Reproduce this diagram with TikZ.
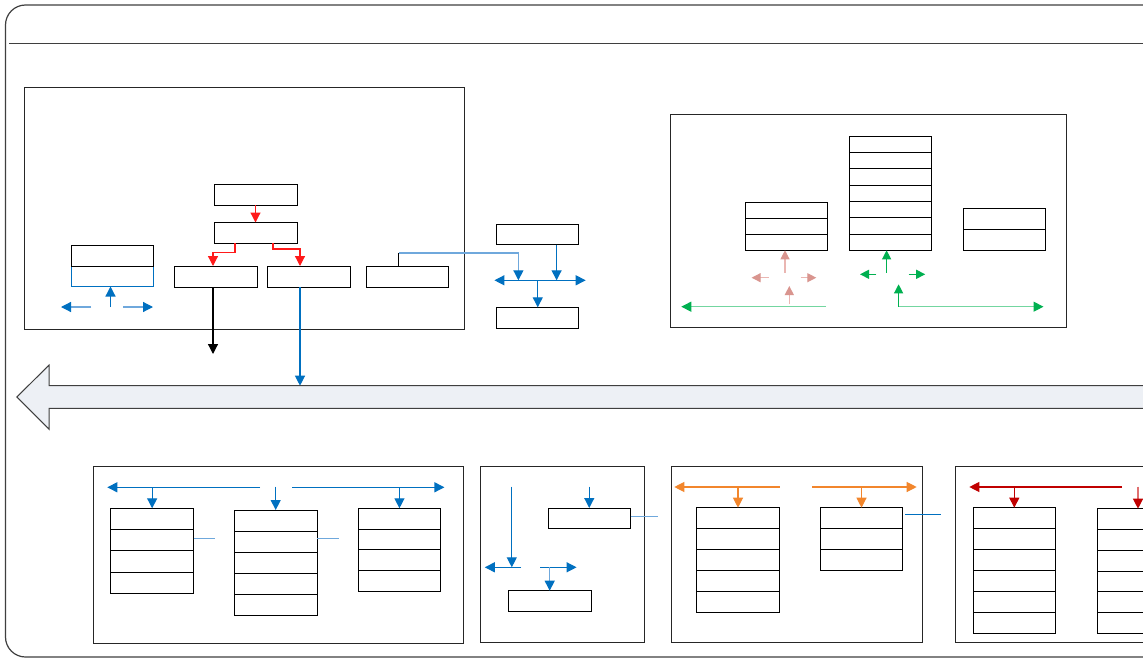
\documentclass[tikz,border=0pt]{standalone}
\usetikzlibrary{arrows.meta,calc}

\definecolor{frameGrey}{HTML}{3F3F3F}
\definecolor{blueD}{HTML}{0070C0}
\definecolor{blueL}{HTML}{6FA8DC}
\definecolor{redA}{HTML}{FF1A1A}
\definecolor{pinkL}{HTML}{EAB6B2}
\definecolor{pinkD}{HTML}{D9958F}
\definecolor{greenD}{HTML}{00B050}
\definecolor{greenL}{HTML}{73D6A0}
\definecolor{orangeA}{HTML}{F2862C}
\definecolor{darkRed}{HTML}{C00000}
\definecolor{darkRedL}{HTML}{E07070}
\definecolor{busFill}{HTML}{EDF0F5}

\tikzset{
  cell/.style={draw=black, line width=0.9pt, inner sep=0pt, outer sep=0pt, anchor=north west},
  panel/.style={draw=black!85, line width=0.9pt, inner sep=0pt, outer sep=0pt, anchor=north west},
  arr/.style 2 args={line width=1.2pt, draw=#1, -{Triangle[length=10pt,width=10pt,color=#2]}},
  sarr/.style 2 args={line width=1.2pt, draw=#1, -{Triangle[length=9pt,width=9pt,color=#2]}},
  dblarr/.style 2 args={line width=1.2pt, draw=#1, {Triangle[length=10pt,width=10pt,color=#2]}-{Triangle[length=10pt,width=10pt,color=#2]}},
  plain/.style={line width=1.2pt, draw=#1},
}

\begin{document}
\begin{tikzpicture}[x=1pt,y=-1pt]
\useasboundingbox (0,0) rectangle (1143,658);
\clip (0,0) rectangle (1143,658);
\fill[white] (0,0) rectangle (1143,658);

% outer frame and header rule
\draw[frameGrey, line width=1.2pt, rounded corners=20pt] (5.5,657) -- (5.5,5) -- (1200,5) -- (1200,657) -- cycle;
\draw[frameGrey, line width=1.2pt] (9,43.5) -- (1200,43.5);

% ---------------- panel A ----------------
\node[panel, minimum width=439.5pt, minimum height=241.5pt] (pA) at (24.5,87.5) {};
\node[cell, minimum width=83pt, minimum height=21pt] (a-top) at (214,184) {};
\node[cell, minimum width=83pt, minimum height=20.5pt] (a-mid) at (214,222.5) {};
\node[cell, minimum width=83pt, minimum height=21pt] (a-b1) at (174,266) {};
\node[cell, minimum width=83pt, minimum height=21pt] (a-b2) at (267,266) {};
\node[cell, minimum width=82pt, minimum height=21pt] (a-b3) at (366,266) {};
\node[cell, draw=blueD, minimum width=82.5pt, minimum height=20.5pt] (a-l2) at (71,266) {};
\node[cell, minimum width=82.5pt, minimum height=21pt] (a-l1) at (71,245) {};

\draw[arr={redA}{redA}] (a-top.south) -- (a-mid.north);
\draw[arr={redA}{redA}] ([xshift=-20.5pt]a-mid.south) -- ++(0,9.5) -| ([xshift=-2.5pt]a-b1.north);
\draw[arr={redA}{redA}] ([xshift=17.5pt]a-mid.south) -- ++(0,6) -| ([xshift=-8.5pt]a-b2.north);

\coordinate (blk-end) at (213,354);
\draw[arr={black}{black}] ([xshift=-2.5pt]a-b1.south) -- (blk-end);

\coordinate (bus-a) at (300,385.7);
\draw[arr={blueD}{blueD}] ([xshift=-8.5pt]a-b2.south) -- (bus-a);

% small arrows under the left pair
\coordinate (la-l0) at (91,307);   \coordinate (la-l1) at (61,307);
\coordinate (la-u0) at (110.5,307);
\coordinate (la-r0) at (123,307);  \coordinate (la-r1) at (153,307);
\draw[arr={blueL}{blueD}] (la-l0) -- (la-l1);
\draw[arr={blueD}{blueD}] (la-u0) -- (la-u0 |- a-l2.south);
\draw[arr={blueL}{blueD}] (la-r0) -- (la-r1);

% ---------------- junction D / E ----------------
\node[cell, minimum width=82.3pt, minimum height=20.7pt] (d) at (496.6,224) {};
\node[cell, minimum width=82.3pt, minimum height=21pt] (e) at (496.6,307.3) {};
\coordinate (hb-l) at (494.4,280.3);
\coordinate (hb-r) at (585.7,280.3);
\coordinate (hb-in1) at (518.4,280.3);
\coordinate (hb-in2) at (556.6,280.3);
\coordinate (hb-mid) at (537.75,280.3);

\draw[line width=1pt, black] ([xshift=-8.5pt]a-b3.north) -- ++(0,-13) coordinate (j1);
\draw[arr={blueL}{blueD}] (j1) -| (hb-in1);
\draw[arr={blueD}{blueD}] ([xshift=18.85pt]d.south) -- (hb-in2);
\draw[dblarr={blueD}{blueD}] (hb-l) -- (hb-r);
\draw[arr={blueD}{blueD}] (hb-mid) -- (e.north);

% ---------------- panel C ----------------
\node[panel, minimum width=396pt, minimum height=213.7pt] (pC) at (670,114) {};
\foreach \i in {0,...,2}
  \node[cell, minimum width=82.3pt, minimum height=16pt] (c-l-\i) at (745.6,{202.3+16*\i}) {};
\foreach \i in {0,...,6}
  \node[cell, minimum width=82.3pt, minimum height=16.33pt] (c-m-\i) at (849.3,{136+16.33*\i}) {};
\foreach \i in {0,...,1}
  \node[cell, minimum width=82.3pt, minimum height=21.15pt] (c-r-\i) at (963.3,{208+21.15*\i}) {};

% pink arrows
\coordinate (pk-u0) at (785,272.7);
\coordinate (pk-l0) at (768.7,277.7); \coordinate (pk-l1) at (751.6,277.7);
\coordinate (pk-r0) at (800.5,277.7); \coordinate (pk-r1) at (816.3,277.7);
\coordinate (pk-b0) at (789.3,304.3); \coordinate (pk-b1) at (789.3,286);
\draw[sarr={pinkL}{pinkD}] (pk-u0) -- (pk-u0 |- c-l-2.south);
\draw[sarr={pinkL}{pinkD}] (pk-l0) -- (pk-l1);
\draw[sarr={pinkL}{pinkD}] (pk-r0) -- (pk-r1);
\draw[sarr={pinkL}{pinkD}] (pk-b0) -- (pk-b1);

% green arrows
\coordinate (gr-u0) at (886.6,272.7);
\coordinate (gr-l0) at (876.3,274.3); \coordinate (gr-l1) at (860,274.3);
\coordinate (gr-r0) at (908.5,274.3); \coordinate (gr-r1) at (925.2,274.3);
\coordinate (gr-b0) at (898.6,306.7); \coordinate (gr-b1) at (898.6,284.3);
\coordinate (gr-L0) at (826.2,306.7); \coordinate (gr-L1) at (681.3,306.7);
\coordinate (gr-R1) at (1043.5,306.7);
\draw[sarr={greenD}{greenD}] (gr-u0) -- (gr-u0 |- c-m-6.south);
\draw[sarr={greenD}{greenD}] (gr-l0) -- (gr-l1);
\draw[sarr={greenD}{greenD}] (gr-r0) -- (gr-r1);
\draw[sarr={greenD}{greenD}] (gr-b0) -- (gr-b1);
\draw[arr={greenL}{greenD}] (gr-L0) -- (gr-L1);
\draw[arr={greenL}{greenD}] (gr-b0) -- (gr-R1);

% ---------------- bus arrow ----------------
\draw[frameGrey, line width=1pt, fill=busFill]
  (1200,385.7) -- (49.2,385.7) -- (49.2,365) -- (16.8,397) -- (49.2,429.3) -- (49.2,408.3) -- (1200,408.3) -- cycle;

% ---------------- panel F ----------------
\node[panel, minimum width=370.8pt, minimum height=176.6pt] (pF) at (93,466.7) {};
\foreach \i in {0,...,3}
  \node[cell, minimum width=82.9pt, minimum height=21.25pt] (f1-\i) at (110.7,{508.3+21.25*\i}) {};
\foreach \i in {0,...,4}
  \node[cell, minimum width=82.6pt, minimum height=21pt] (f2-\i) at (234.4,{510+21*\i}) {};
\foreach \i in {0,...,3}
  \node[cell, minimum width=82.5pt, minimum height=20.75pt] (f3-\i) at (358.2,{508.3+20.75*\i}) {};

\coordinate (fl-0) at (260,487.3);   \coordinate (fl-1) at (107.3,487.3);
\coordinate (fr-0) at (292,487.3);   \coordinate (fr-1) at (444.4,487.3);
\coordinate (fm-0) at (275.7,486.7);
\draw[arr={blueD}{blueD}] (fl-0) -- (fl-1);
\draw[arr={blueD}{blueD}] (fl-0 -| f1-0.north) -- (f1-0.north);
\draw[arr={blueD}{blueD}] (fm-0 -| f2-0.north) -- (f2-0.north);
\draw[arr={blueD}{blueD}] (fr-0) -- (fr-1);
\draw[arr={blueD}{blueD}] (fr-0 -| f3-0.north) -- (f3-0.north);
\draw[plain=blueL] ([yshift=1.5pt]f1-1.east) -- ++(21,0);
\draw[plain=blueL] ([yshift=2.8pt]f2-1.east) -- ++(21.8,0);

% ---------------- panel G ----------------
\node[panel, minimum width=163.8pt, minimum height=176pt] (pG) at (480.2,466.7) {};
\node[cell, minimum width=82.5pt, minimum height=20.7pt] (g1) at (548,508) {};
\node[cell, minimum width=82.6pt, minimum height=20.6pt] (g2) at (508.4,590.7) {};
\coordinate (gt-0) at (589.25,486.7);
\coordinate (gv-0) at (511.8,486.7); \coordinate (gv-1) at (511.8,567.3);
\coordinate (gl-0) at (521,567.3);   \coordinate (gl-1) at (484.8,567.3);
\coordinate (gr-0) at (540,567.3);   \coordinate (gr-1) at (576.6,567.3);
\coordinate (gd-0) at (549.7,567.3);
\coordinate (g-out) at (657.7,516.7);
\draw[arr={blueD}{blueD}] (gt-0) -- (g1.north);
\draw[arr={blueD}{blueD}] (gv-0) -- (gv-1);
\draw[arr={blueD}{blueD}] (gl-0) -- (gl-1);
\draw[arr={blueD}{blueD}] (gr-0) -- (gr-1);
\draw[arr={blueL}{blueD}] (gd-0) -- (g2.north);
\draw[plain=blueL] (g1.east |- g-out) -- (g-out);

% ---------------- panel H ----------------
\node[panel, minimum width=251pt, minimum height=176pt] (pH) at (671.3,466.7) {};
\foreach \i in {0,...,4}
  \node[cell, minimum width=82.6pt, minimum height=20.86pt] (h1-\i) at (696.7,{507.7+20.86*\i}) {};
\foreach \i in {0,...,2}
  \node[cell, minimum width=82.4pt, minimum height=21pt] (h2-\i) at (820.3,{507.7+21*\i}) {};
\coordinate (hl-0) at (779.7,487); \coordinate (hl-1) at (674.3,487);
\coordinate (hr-0) at (812,487);   \coordinate (hr-1) at (916.7,487);
\coordinate (h-out0) at (905,514.3); \coordinate (h-out1) at (940.7,514.3);
\draw[arr={orangeA}{orangeA}] (hl-0) -- (hl-1);
\draw[arr={orangeA}{orangeA}] (hl-0 -| h1-0.north) -- (h1-0.north);
\draw[arr={orangeA}{orangeA}] (hr-0) -- (hr-1);
\draw[arr={orangeA}{orangeA}] (hr-0 -| h2-0.north) -- (h2-0.north);
\draw[plain=blueD] (h-out0) -- (h-out1);

% ---------------- panel I ----------------
\node[panel, minimum width=245pt, minimum height=176pt] (pI) at (955,466.7) {};
\foreach \i in {0,...,5}
  \node[cell, minimum width=82pt, minimum height=20.93pt] (i1-\i) at (973.3,{507.7+20.93*\i}) {};
\foreach \i in {0,...,5}
  \node[cell, minimum width=82pt, minimum height=20.77pt] (i2-\i) at (1097,{508.7+20.77*\i}) {};
\coordinate (il-0) at (1122,487); \coordinate (il-1) at (969.3,487);
\coordinate (ir-0) at (1138,486.7);
\draw[arr={darkRed}{darkRed}] (il-0) -- (il-1);
\draw[arr={darkRed}{darkRed}] (il-0 -| i1-0.north) -- (i1-0.north);
\draw[arr={darkRedL}{darkRed}] (ir-0 -| i2-0.north) -- (i2-0.north);

\end{tikzpicture}
\end{document}
